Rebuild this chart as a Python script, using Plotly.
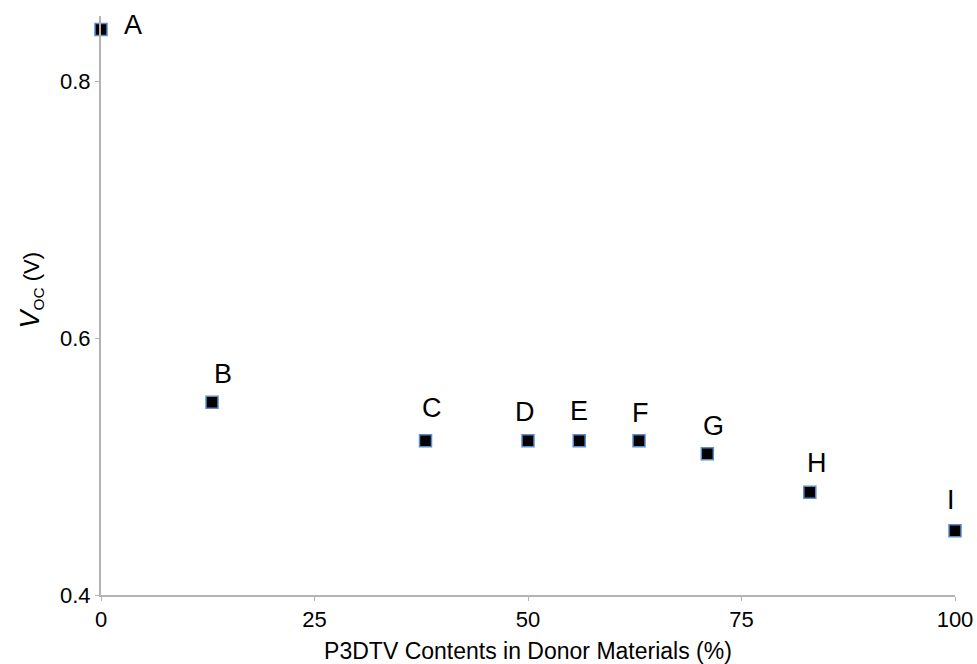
import plotly.graph_objects as go

# P3DTV content (%) and open-circuit voltage (V) for each blend
labels = ["A", "B", "C", "D", "E", "F", "G", "H", "I"]
p3dtv_content = [0, 13, 38, 50, 56, 63, 71, 83, 100]
voc = [0.84, 0.55, 0.52, 0.52, 0.52, 0.52, 0.51, 0.48, 0.45]

x_ticks = [0, 25, 50, 75, 100]
y_ticks = [0.4, 0.6, 0.8]

# pixel offsets of each point label relative to its marker
label_dx = [32, 11, 6, -3, 0, 1, 6, 7, -4]
label_dy = [5, 28, 33, 29, 30, 28, 28, 29, 31]

font_family = "Liberation Sans, Arial, Helvetica, sans-serif"
axis_grey = "#b3b3b3"

fig = go.Figure()
fig.add_trace(go.Scatter(
    x=p3dtv_content,
    y=voc,
    mode="markers",
    marker=dict(symbol="square", size=12, color="black",
                line=dict(color="#5b8ccc", width=1.5)),
    cliponaxis=False,
    showlegend=False,
    hoverinfo="x+y",
))

for lab, xv, yv, dx, dy in zip(labels, p3dtv_content, voc, label_dx, label_dy):
    fig.add_annotation(x=xv, y=yv, text=lab, showarrow=False,
                       xshift=dx, yshift=dy,
                       font=dict(family=font_family, size=27, color="black"))

# leading spaces lift the rotated y title slightly above the axis centre
y_title = ("&nbsp;" * 5
           + "<span style='font-size:27px'><i>V</i></span><sub>OC</sub> (V)")

fig.update_layout(
    width=977, height=664,
    margin=dict(l=101, r=22, t=16, b=69),
    paper_bgcolor="white", plot_bgcolor="white",
    font=dict(family=font_family, color="black"),
    xaxis=dict(
        range=[0, 100], tickvals=x_ticks, ticktext=[str(v) for v in x_ticks],
        showgrid=False, zeroline=False, showline=True, linecolor=axis_grey,
        linewidth=2, ticks="outside", ticklen=4, tickcolor=axis_grey,
        tickfont=dict(size=22), automargin=False,
        title=dict(text="P3DTV Contents in Donor Materials (%)",
                   font=dict(size=23), standoff=12),
    ),
    yaxis=dict(
        range=[0.4, 0.8506], tickvals=y_ticks, ticktext=["0.4", "0.6", "0.8"],
        showgrid=False, zeroline=False, showline=True, linecolor=axis_grey,
        linewidth=2, ticks="outside", ticklen=4, tickcolor=axis_grey,
        tickfont=dict(size=22), automargin=False,
        title=dict(text=y_title, font=dict(size=22), standoff=14),
    ),
)

fig.write_html("out.html")
